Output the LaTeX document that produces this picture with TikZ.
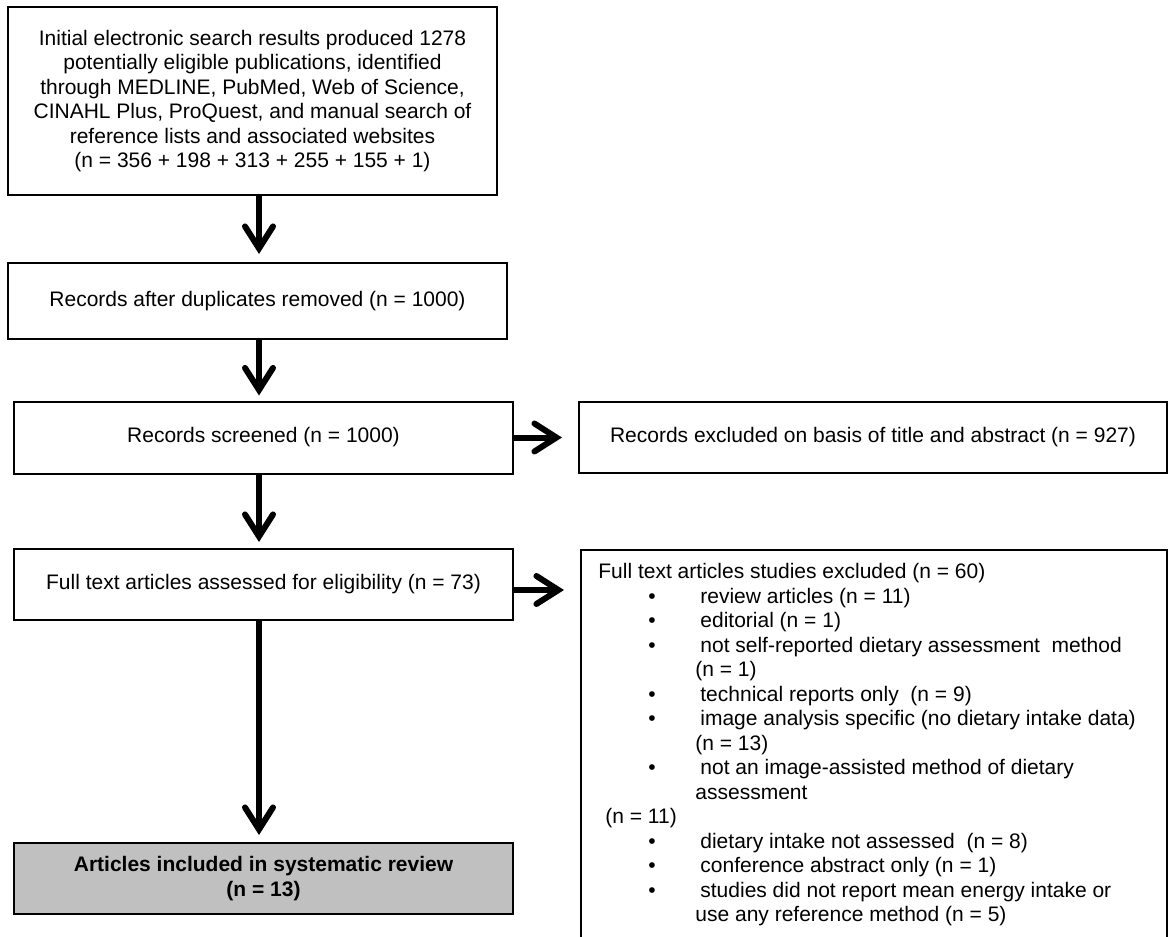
\documentclass[tikz,border=0pt]{standalone}
\usepackage{fontspec}
\setmainfont{Liberation Sans}
\usetikzlibrary{arrows.meta}
\usetikzlibrary{positioning}
\definecolor{box-grey}{RGB}{192, 192, 192}

\newcommand{\bul}[1]{\hspace*{25pt}\makebox[26pt][l]{\textbullet}#1}
\newcommand{\cont}[1]{\hspace*{48.5pt}#1}

\begin{document}
\begin{tikzpicture}[x=0.5pt, y=-0.5pt,
    font=\fontsize{10.5}{12.25}\selectfont,
    box/.style={draw=black, line width=1pt, rectangle, inner sep=0pt, align=center},
    flow/.style={line width=3pt, -{Straight Barb[length=11pt, width=14pt, line cap=round]}}]
\useasboundingbox (0,0) rectangle (1168,937);
\clip (0,0) rectangle (1168,937);
\coordinate (spine) at (259,0);
\coordinate (level) at (0,590);

\node[box, minimum width=244.5pt, minimum height=94pt] (search) at (252.5,101) {Initial electronic search results produced 1278\\
potentially eligible publications, identified\\
through MEDLINE, PubMed, Web of Science,\\
CINAHL Plus, ProQuest, and manual search of\\
reference lists and associated websites\\
(n = 356 + 198 + 313 + 255 + 155 + 1)};
\node[box, minimum width=249.5pt, minimum height=38pt] (dedup) at (257.5,301) {Records after duplicates removed (n = 1000)};
\node[box, minimum width=249.5pt, minimum height=36pt] (screened) at (263.5,437.5) {Records screened (n = 1000)};
\node[box, minimum width=294pt, minimum height=35.5pt] (excl-title) at (873,437.5) {Records excluded on basis of title and abstract (n = 927)};
\node[box, minimum width=249.5pt, minimum height=35.5pt] (fulltext) at (263.5,584.5) {Full text articles assessed for eligibility (n = 73)};
\node[box, minimum width=293pt, minimum height=220pt, anchor=north west] (excl-full) at (580,549) {};
\node[anchor=north west, align=left, inner sep=0pt] (reasons) at (598,563) {Full text articles studies excluded (n = 60)\\
\bul{review articles (n = 11)}\\
\bul{editorial (n = 1)}\\
\bul{not self-reported dietary assessment \ method}\\
\cont{(n = 1)}\\
\bul{technical reports only \ (n = 9)}\\
\bul{image analysis specific (no dietary intake data)}\\
\cont{(n = 13)}\\
\bul{not an image-assisted method of dietary}\\
\cont{assessment}\\
\hspace*{3.5pt}(n = 11)\\
\bul{dietary intake not assessed \ (n = 8)}\\
\bul{conference abstract only (n = 1)}\\
\bul{studies did not report mean energy intake or}\\
\cont{use any reference method (n = 5)}};
\node[box, fill=box-grey, font=\fontsize{10.5}{12.25}\selectfont\bfseries, minimum width=249.5pt, minimum height=35.5pt] (included) at (263.5,878.5) {Articles included in systematic review\\(n = 13)};

\draw[flow, shorten >=4pt] (search.south -| spine) -- (dedup.north -| spine);
\draw[flow, shorten >=2.5pt] (dedup.south -| spine) -- (screened.north -| spine);
\draw[flow, shorten >=3pt] (screened.south -| spine) -- (fulltext.north -| spine);
\draw[flow, shorten >=3.5pt] (fulltext.south -| spine) -- (included.north -| spine);
\draw[flow, shorten >=8pt] (screened.east) -- (excl-title.west);
\draw[flow, shorten >=8pt] (fulltext.east |- level) -- (excl-full.west |- level);
\end{tikzpicture}
\end{document}
